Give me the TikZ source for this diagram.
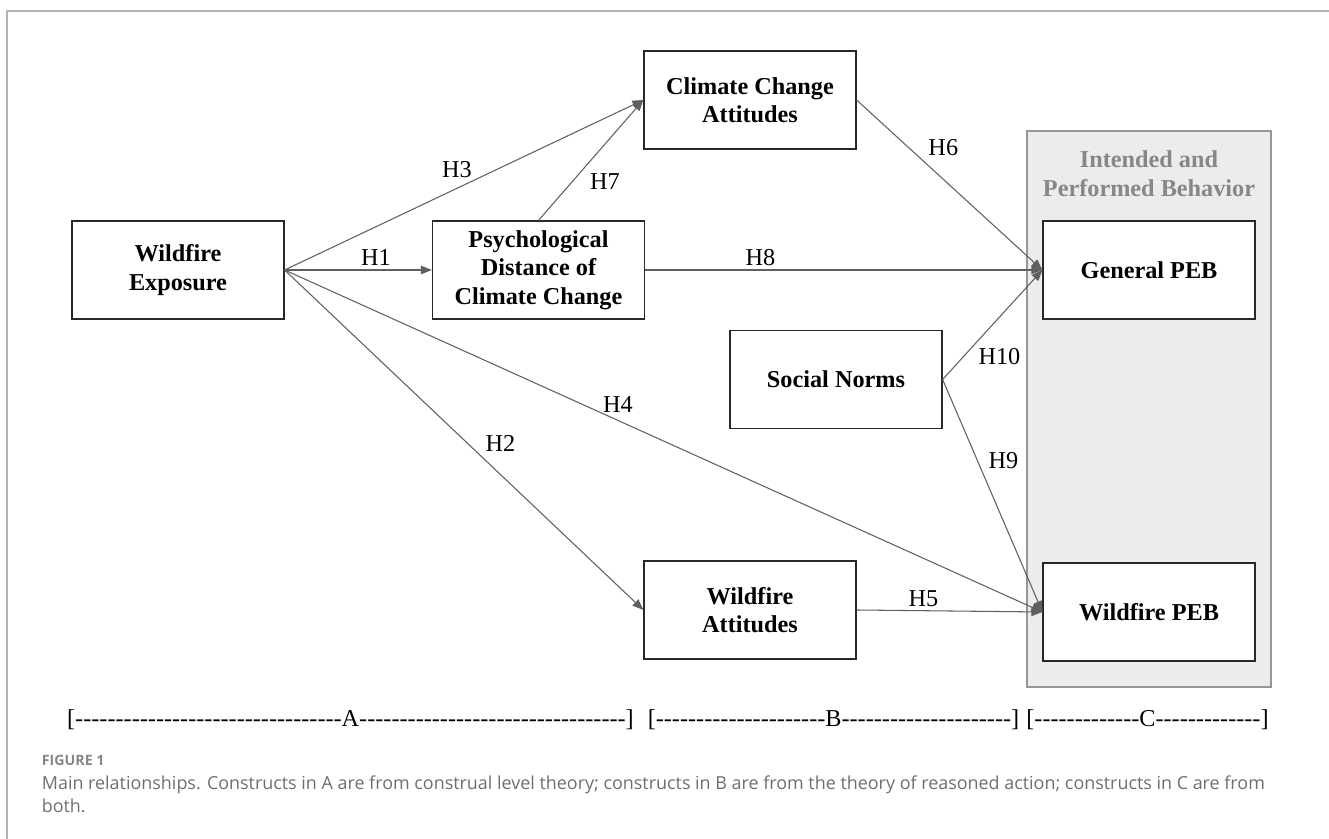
\documentclass[tikz,border=0pt]{standalone}
\usepackage{fontspec}
\setmainfont{Liberation Serif}
\newfontfamily\plainserif{Liberation Serif}[Ligatures=ResetAll]
\newfontfamily\capfont{Open Sans}
\usepackage{xcolor}
\definecolor{boxline}{RGB}{40,40,40}
\definecolor{arrgray}{RGB}{95,95,95}
\definecolor{grpfill}{RGB}{236,236,236}
\definecolor{grpline}{RGB}{150,150,150}
\definecolor{grptext}{RGB}{135,135,135}
\definecolor{framegray}{RGB}{180,180,180}
\definecolor{capgray}{RGB}{110,110,110}
\usepackage{tikz}
\usetikzlibrary{arrows.meta,positioning}

\begin{document}
\begin{tikzpicture}[scale=1.0,
  box/.style={draw=boxline,line width=0.7pt,fill=white,minimum width=4.24cm,minimum height=1.96cm,
    align=center,font=\bfseries\fontsize{13.8}{16.1}\selectfont},
  arr/.style={draw=arrgray,line width=0.6pt,-{Triangle[length=0.22cm,width=0.17cm]}},
  lbl/.style={font=\fontsize{13.8}{15}\selectfont,inner sep=2pt},
  bracket/.style={font=\plainserif\fontsize{13.8}{15}\selectfont,inner sep=0pt,anchor=base}]
  \useasboundingbox (0,0) rectangle (26.58,16.78);
  % page frame (top and left only)
  \draw[framegray,line width=0.8pt] (0.14,0) -- (0.14,16.56) -- (26.58,16.56);

  % group of outcome behaviours
  \draw[grpline,fill=grpfill,line width=0.7pt] (20.54,3.04) rectangle (25.42,14.16);
  \node[align=center,text=grptext,font=\bfseries\fontsize{13.8}{16.6}\selectfont] (grp) at (22.98,13.31)
    {Intended and\\Performed Behavior};

  % constructs
  \node[box] (wexp) at (3.56,11.38) {Wildfire\\Exposure};
  \node[box] (pdist) at (10.77,11.38) {Psychological\\Distance of\\Climate Change};
  \node[box] (ccatt) at (15.00,14.78) {Climate Change\\Attitudes};
  \node[box] (snorm) at (16.72,9.19) {Social Norms};
  \node[box] (watt) at (15.00,4.58) {Wildfire\\Attitudes};
  \node[box] (gpeb) at (22.98,11.38) {General PEB};
  \node[box] (wpeb) at (22.98,4.54) {Wildfire PEB};

  % hypotheses
  \draw[arr] (wexp.east) -- node[lbl,pos=0.62,above] {H1} (pdist.west);
  \draw[arr] (wexp.east) -- node[lbl,pos=0.51,right=8pt] {H2} (watt.west);
  \draw[arr] (wexp.east) -- node[lbl,pos=0.48,above=4pt] {H3} (ccatt.west);
  \draw[arr] (wexp.east) -- node[lbl,pos=0.44,above=2pt] {H4} (wpeb.west);
  \draw[arr] (watt.east) -- node[lbl,pos=0.36,above] {H5} (wpeb.west);
  \draw[arr] (ccatt.east) -- node[lbl,pos=0.28,right=9pt] {H6} (gpeb.west);
  \draw[arr] (pdist.north) -- node[lbl,pos=0.32,right=8pt] {H7} (ccatt.west);
  \draw[arr] (pdist.east) -- node[lbl,pos=0.29,above] {H8} (gpeb.west);
  \draw[arr] (snorm.east) -- node[lbl,pos=0.35,right=4pt] {H9} (wpeb.west);
  \draw[arr] (snorm.east) -- node[lbl,pos=0.32,below right] {H10} (gpeb.west);

  % theory brackets
  \node[bracket] (brA) at (7.01,2.24) {[---------------------------------A---------------------------------]};
  \node[bracket] (brB) at (16.67,2.24) {[---------------------B---------------------]};
  \node[bracket] (brC) at (22.95,2.24) {[-------------C-------------]};

  % caption
  \node[anchor=base west,inner sep=0pt,text=grptext,font=\capfont\bfseries\fontsize{8.1}{10}\selectfont] (fig) at (0.83,1.46) {FIGURE 1};
  \node[anchor=base west,inner sep=0pt,align=left,text=capgray,font=\capfont\fontsize{10.2}{13.1}\selectfont] (cap) at (0.83,0.52)
    {Main relationships. Constructs in A are from construal level theory; constructs in B are from the theory of reasoned action; constructs in C are from\\both.};
\end{tikzpicture}
\end{document}
